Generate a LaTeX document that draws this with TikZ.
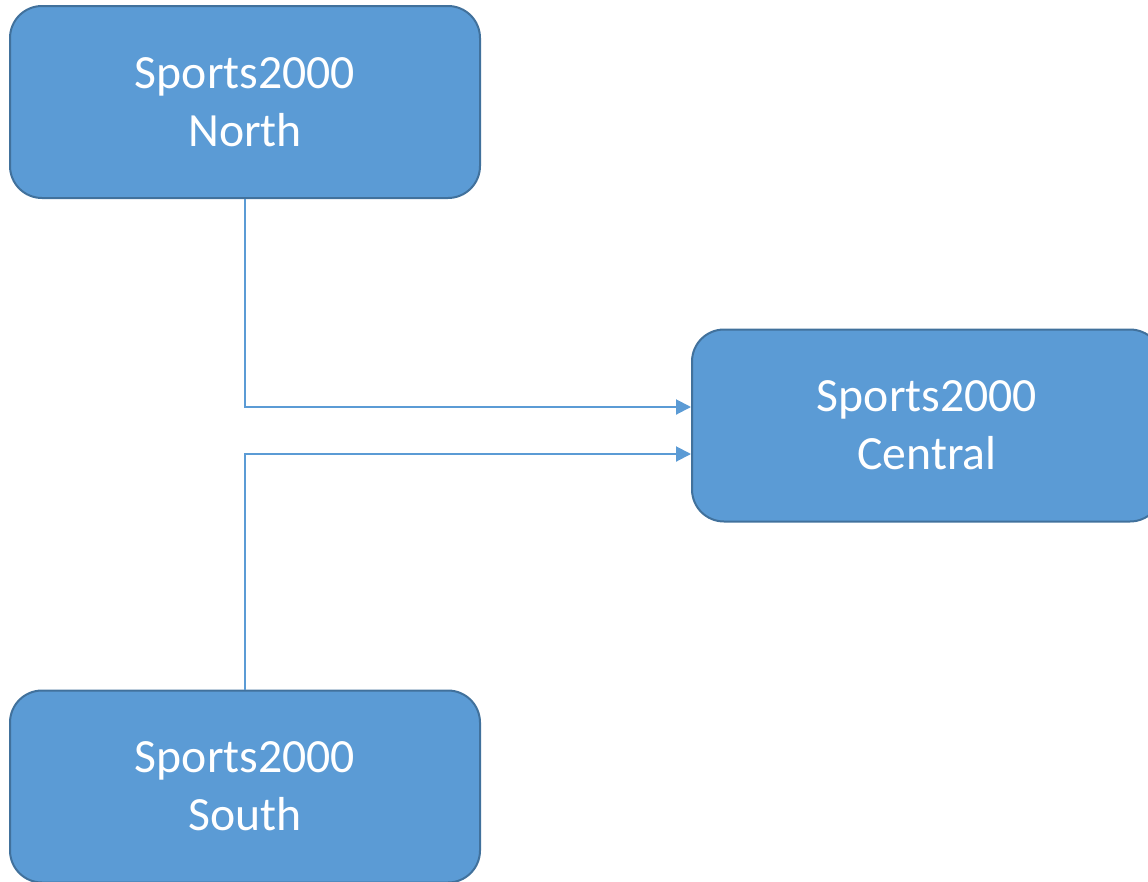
\documentclass[tikz,border=0pt]{standalone}
\usepackage{fontspec}
\setmainfont{Carlito}
\usetikzlibrary{arrows.meta}
\definecolor{boxfill}{HTML}{5B9BD5}
\definecolor{boxline}{HTML}{41719C}
\definecolor{conn}{HTML}{5B9BD5}
\tikzset{
  site/.style={draw=boxline, fill=boxfill, line width=2pt, rounded corners=32pt,
    minimum width=470pt, minimum height=192pt, inner sep=0pt, align=center,
    text=white, font=\fontsize{47.7}{58}\selectfont},
  link/.style={draw=conn, line width=2pt, -{Triangle[length=15pt,width=15pt]}}
}
\begin{document}
\begin{tikzpicture}[x=1pt,y=-1pt]
\useasboundingbox (0,0) rectangle (1148,881);
\node[site] (N) at (245,102) {Sports2000\\North};
\node[site] (C) at (927,425.5) {Sports2000\\Central};
\node[site] (S) at (245,786.5) {Sports2000\\South};
\draw[link] (N.south) |- ([yshift=18.5pt]C.west);
\draw[link] (S.north) |- ([yshift=-28.5pt]C.west);
\end{tikzpicture}
\end{document}
